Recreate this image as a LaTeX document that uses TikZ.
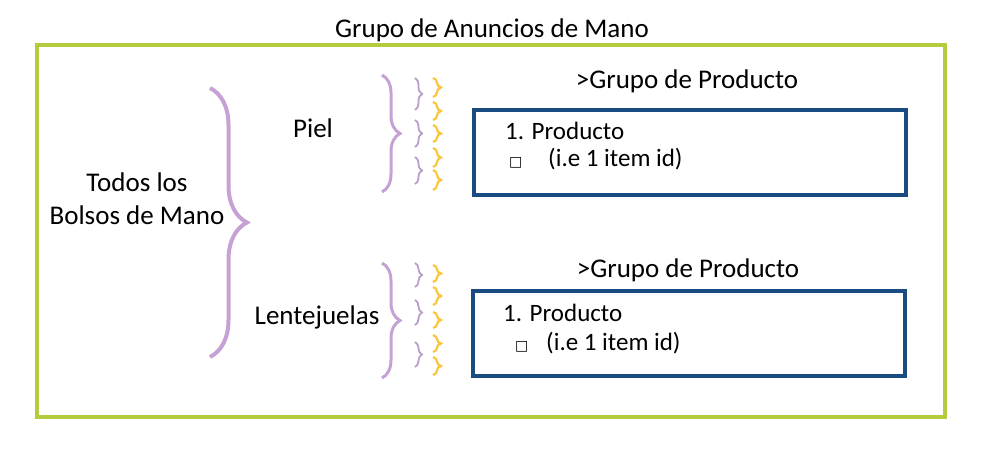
\documentclass[tikz,border=0pt]{standalone}
\usepackage{fontspec}
\setmainfont{Carlito}
\newfontfamily\symfont{DejaVu Sans}
\usetikzlibrary{decorations.pathreplacing}
\definecolor{framegreen}{RGB}{178,204,62}
\definecolor{boxblue}{RGB}{26,76,130}
\definecolor{lav}{RGB}{198,162,212}
\definecolor{gold}{RGB}{250,198,60}
\begin{document}
\begin{tikzpicture}[x=1pt,y=-1pt,
  lbl/.style={inner sep=0pt, anchor=base, font=\fontsize{27}{32}\selectfont},
  small/.style={inner sep=0pt, anchor=base west, font=\fontsize{25}{30}\selectfont},
  sq/.style={inner sep=0pt, anchor=base west, font=\symfont\fontsize{14}{16}\selectfont},
  prodbox/.style={draw=boxblue, line width=4pt, minimum width=432pt, minimum height=85pt, inner sep=0pt},
  brc/.style={decorate, decoration={brace, amplitude=#1}},
  bigbrace/.style={brc=37pt, draw=lav, line width=4pt},
  midbrace/.style={brc=18pt, draw=lav, line width=3pt},
  tinybrace/.style={brc=7pt, draw=lav!85!gray, line width=1.8pt},
  goldbrace/.style={brc=8pt, draw=gold, line width=2.2pt}
]
\useasboundingbox (0,0) rectangle (1008,454);
\node[draw=framegreen, line width=4pt, minimum width=908pt, minimum height=372pt, inner sep=0pt] (frame) at (491,231) {};
\node[lbl] (title) at (492,38) {Grupo de Anuncios de Mano};

\node[lbl] (todos) at (137,192) {Todos los};
\node[lbl] (bolsos) at (137,225) {Bolsos de Mano};
\node[lbl] (piel) at (313,138) {Piel};
\node[lbl] (lent) at (317,324) {Lentejuelas};

\node[lbl] (g1) at (687,89) {>Grupo de Producto};
\node[lbl] (g2) at (688,277) {>Grupo de Producto};

\node[prodbox] (box1) at (689.5,152.5) {};
\node[prodbox] (box2) at (688.5,333.5) {};
\node[small] (p1) at (505,140) {1. Producto};
\node[sq] (s1) at (509,167) {□};
\node[small] (i1) at (548,167) {(i.e 1 item id)};
\node[small] (p2) at (503,321) {1. Producto};
\node[sq] (s2) at (515,350) {□};
\node[small] (i2) at (546,350) {(i.e 1 item id)};

% braces
\draw[bigbrace] (210,88) -- (210,357);
\draw[midbrace] (382,75) -- (382,192);
\draw[midbrace] (382,263) -- (382,378);

\foreach \a/\b in {78/110,120/147,157/184,263/287,300/325,342/367}
  \draw[tinybrace] (415,\a) -- (415,\b);
\foreach \a/\b in {78/97,102/120,125/142,148/167,170/190,265/282,287/305,312/328,335/352,357/375}
  \draw[goldbrace] (433,\a) -- (433,\b);
\end{tikzpicture}
\end{document}
